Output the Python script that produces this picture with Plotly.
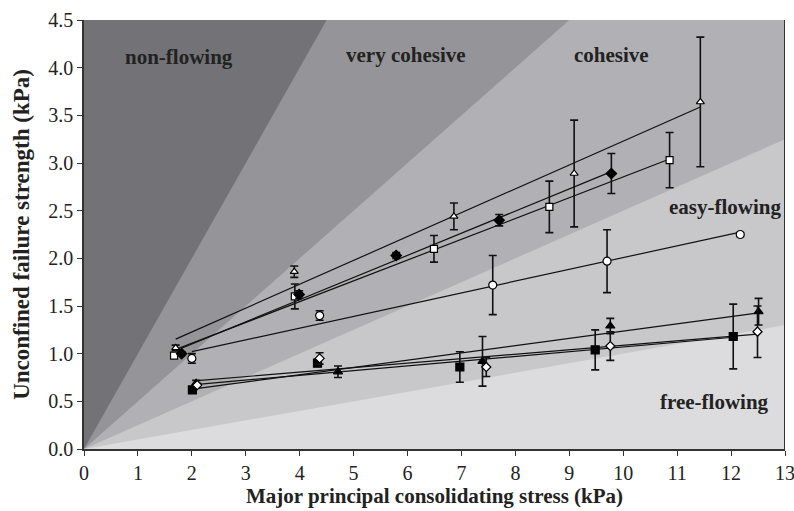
import numpy as np
import plotly.graph_objects as go

# Flow-function boundaries (ffc = sigma1 / sigma_c) and region shading
ffc_bounds = [1, 2, 4, 10]
region_colors = ["#737377", "#959599", "#b1b1b5", "#c8c8cb", "#dcdcde"]
region_names = ["non-flowing", "very cohesive", "cohesive", "easy-flowing", "free-flowing"]
region_label_x = [1.76, 5.98, 9.78, 11.88, 11.69]
region_label_y = [4.11, 4.13, 4.13, 2.54, 0.49]

X_MAX, Y_MAX = 13.0, 4.5

# Measured series: consolidating stress, failure strength, error
sA_x = [1.70, 3.90, 6.86, 9.09, 11.43]
sA_y = [1.06, 1.86, 2.44, 2.89, 3.64]
sA_e = [0.03, 0.06, 0.14, 0.56, 0.68]

sB_x = [1.67, 3.91, 6.49, 8.63, 10.86]
sB_y = [0.98, 1.60, 2.10, 2.54, 3.03]
sB_e = [0.02, 0.13, 0.14, 0.27, 0.29]

sC_x = [1.81, 3.99, 5.79, 7.70, 9.78]
sC_y = [1.00, 1.62, 2.03, 2.40, 2.89]
sC_e = [0.02, 0.04, 0.03, 0.06, 0.21]

sD_x = [2.00, 4.37, 7.58, 9.70, 12.17]
sD_y = [0.95, 1.40, 1.72, 1.97, 2.25]
sD_e = [0.05, 0.05, 0.31, 0.33, 0.02]

sE_x = [2.08, 4.71, 7.39, 9.76, 12.51]
sE_y = [0.69, 0.81, 0.92, 1.29, 1.44]
sE_e = [0.03, 0.06, 0.26, 0.08, 0.14]

sF_x = [2.01, 4.33, 6.97, 9.48, 12.04]
sF_y = [0.62, 0.90, 0.86, 1.04, 1.18]
sF_e = [0.02, 0.03, 0.16, 0.21, 0.34]

sG_x = [2.10, 4.37, 7.46, 9.76, 12.49]
sG_y = [0.67, 0.95, 0.86, 1.08, 1.23]
sG_e = [0.02, 0.06, 0.10, 0.15, 0.27]

x_ticks = list(range(0, 14))
y_ticks = [0.0, 0.5, 1.0, 1.5, 2.0, 2.5, 3.0, 3.5, 4.0, 4.5]

series = [
    (sA_x, sA_y, sA_e, "triangle-up", "white", 7),
    (sB_x, sB_y, sB_e, "square", "white", 7),
    (sC_x, sC_y, sC_e, "diamond", "black", 8),
    (sD_x, sD_y, sD_e, "circle", "white", 8),
    (sE_x, sE_y, sE_e, "triangle-up", "black", 8),
    (sF_x, sF_y, sF_e, "square", "black", 8),
    (sG_x, sG_y, sG_e, "diamond", "white", 7),
]

fig = go.Figure()


def below_line(k):
    """Polygon of the plot box lying under y = x / k."""
    ytop = X_MAX / k
    if ytop <= Y_MAX:
        px = [0, X_MAX, X_MAX, 0]
        py = [0, 0, ytop, 0]
    else:
        px = [0, X_MAX, X_MAX, Y_MAX * k, 0]
        py = [0, 0, Y_MAX, Y_MAX, 0]
    return px, py


# whole box = non-flowing, then lighter zones layered on top
fig.add_trace(go.Scatter(x=[0, X_MAX, X_MAX, 0, 0], y=[0, 0, Y_MAX, Y_MAX, 0],
                         fill="toself", fillcolor=region_colors[0], mode="none",
                         hoverinfo="skip", showlegend=False))
for k, col in zip(ffc_bounds, region_colors[1:]):
    px, py = below_line(k)
    fig.add_trace(go.Scatter(x=px, y=py, fill="toself", fillcolor=col, mode="none",
                             hoverinfo="skip", showlegend=False))

# linear trend lines
for sx, sy, se, sym, fc, sz in series:
    m, c = np.polyfit(sx, sy, 1)
    xs = np.array([min(sx), max(sx)])
    fig.add_trace(go.Scatter(x=xs, y=m * xs + c, mode="lines",
                             line=dict(color="#111111", width=1.2),
                             hoverinfo="skip", showlegend=False))

# data points with error bars
for sx, sy, se, sym, fc, sz in series:
    fig.add_trace(go.Scatter(
        x=sx, y=sy, mode="markers",
        marker=dict(symbol=sym, size=sz, color=fc, line=dict(color="black", width=1.2)),
        error_y=dict(type="data", array=se, visible=True, color="#111111",
                     thickness=1.6, width=4),
        showlegend=False))

for name, lx, ly in zip(region_names, region_label_x, region_label_y):
    fig.add_annotation(x=lx, y=ly, text=f"<b>{name}</b>", showarrow=False,
                       font=dict(family="Liberation Serif", size=21, color="#222222"))

# right-hand frame edge
fig.add_shape(type="line", x0=X_MAX, x1=X_MAX, y0=0, y1=Y_MAX,
              line=dict(color="#333333", width=2))

axis_font = dict(family="Liberation Serif", size=20, color="#222222")

fig.update_xaxes(range=[0, X_MAX], tickvals=x_ticks, ticks="outside", ticklen=5,
                 tickwidth=1.2, tickcolor="#333333", showline=True, linecolor="#333333",
                 linewidth=1.6, showgrid=False, zeroline=False, tickfont=axis_font,
                 ticklabeloverflow="allow", automargin=False,
                 title=dict(text="<b>Major principal consolidating stress (kPa)</b>",
                            font=dict(family="Liberation Serif", size=21, color="#222222"),
                            standoff=6))
fig.update_yaxes(range=[0, Y_MAX], tickvals=y_ticks, tickformat=".1f", ticks="outside",
                 ticklen=5, tickwidth=1.2, tickcolor="#333333", showline=True,
                 linecolor="#333333", linewidth=1.6, showgrid=False, zeroline=False,
                 tickfont=axis_font,
                 title=dict(text="<b>Unconfined failure strength (kPa)</b>",
                            font=dict(family="Liberation Serif", size=23, color="#222222"),
                            standoff=12))

fig.update_layout(width=794, height=511, margin=dict(l=84, r=9, t=16, b=62),
                  plot_bgcolor="white", paper_bgcolor="white")

fig.write_html("out.html")
